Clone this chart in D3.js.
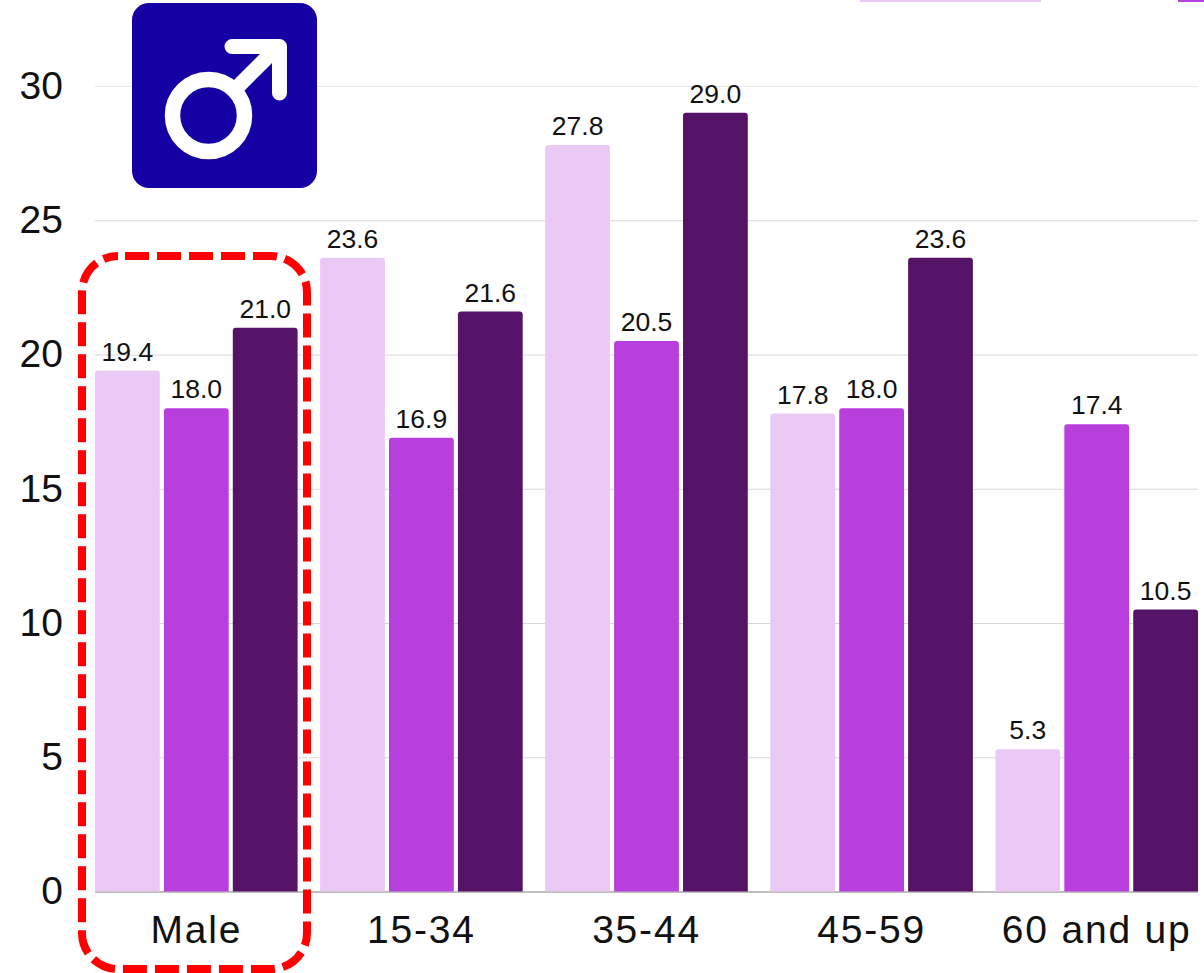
<!DOCTYPE html>
<html>
<head>
<meta charset="utf-8">
<script src="https://cdn.jsdelivr.net/npm/d3@7"></script>
<style>
  html, body { margin: 0; padding: 0; background: #fff; }
  svg { display: block; }
  text { font-family: "Liberation Sans", Arial, sans-serif; fill: #111; }
</style>
</head>
<body>
<div class="chart-container"></div>
<script>
const width = 1204;
const height = 973;

const categories = ['Male', '15-34', '35-44', '45-59', '60 and up'];
const seriesNames = ['a', 'b', 'c'];
const seriesColors = ['#ebc9f5', '#b93ede', '#541366'];
const valuesA = [19.4, 23.6, 27.8, 17.8, 5.3];
const valuesB = [18.0, 16.9, 20.5, 18.0, 17.4];
const valuesC = [21.0, 21.6, 29.0, 23.6, 10.5];
const yTicks = [0, 5, 10, 15, 20, 25, 30];

const seriesValues = [valuesA, valuesB, valuesC];

const svg = d3.select('.chart-container').append('svg')
  .attr('xmlns', 'http://www.w3.org/2000/svg')
  .attr('width', width)
  .attr('height', height)
  .attr('viewBox', '0 0 ' + width + ' ' + height);

const scaleY = d3.scaleLinear().domain([0, 30]).range([891.5, 86]);
const scaleX = d3.scaleBand().domain(categories).range([95, 1198]).paddingInner(0.1);
const scaleSeries = d3.scaleBand().domain(seriesNames).range([0, scaleX.bandwidth()]).paddingInner(0.06);

// grid + y labels
const axisY = svg.append('g')
  .attr('transform', 'translate(95,0)')
  .call(d3.axisLeft(scaleY).tickValues(yTicks).tickSize(-(1198 - 95)).tickPadding(32));
axisY.select('.domain').remove();
axisY.selectAll('line').attr('stroke', (d) => { return d === 0 ? '#a8a8a8' : (d === 30 ? '#e8e8e8' : '#d8d8d8'); }).attr('stroke-width', (d) => { return d === 0 ? 1.5 : 1.2; });
axisY.selectAll('text').style('font-size', '39px').style('font-family', '"Liberation Sans", Arial, sans-serif').attr('fill', '#111');

// bars, rounded on top only
const barPath = (x, y, w, y0, r) => {
  return 'M' + x + ',' + y0 + 'V' + (y + r) + 'Q' + x + ',' + y + ' ' + (x + r) + ',' + y
    + 'H' + (x + w - r) + 'Q' + (x + w) + ',' + y + ' ' + (x + w) + ',' + (y + r) + 'V' + y0 + 'Z';
};

const groups = svg.selectAll('.group').data(categories).enter().append('g')
  .attr('class', 'group')
  .attr('transform', (d) => { return 'translate(' + scaleX(d) + ',0)'; });

seriesNames.forEach((name, s) => {
  groups.append('path')
    .attr('fill', seriesColors[s])
    .attr('d', (d, i) => {
      return barPath(scaleSeries(name), scaleY(seriesValues[s][i]), scaleSeries.bandwidth(), scaleY(0), 3);
    });
  groups.append('text')
    .attr('x', scaleSeries(name) + scaleSeries.bandwidth() / 2)
    .attr('y', (d, i) => { return scaleY(seriesValues[s][i]) - 10; })
    .attr('text-anchor', 'middle')
    .style('font-size', '26.5px')
    .text((d, i) => { return seriesValues[s][i].toFixed(1); });
});

// category labels
const axisX = svg.append('g')
  .attr('transform', 'translate(0,891.5)')
  .call(d3.axisBottom(scaleX).tickSize(0).tickPadding(0));
axisX.select('.domain').remove();
axisX.selectAll('text')
  .attr('y', 51.5)
  .attr('dy', 0)
  .style('font-size', '39px')
  .style('letter-spacing', '1.8px')
  .style('font-family', '"Liberation Sans", Arial, sans-serif')
  .attr('fill', '#111');

// legend, cut off by the top of the picture
svg.append('rect').attr('x', 860).attr('y', -10).attr('width', 181).attr('height', 12).attr('fill', seriesColors[0]);
svg.append('rect').attr('x', 1178).attr('y', -10).attr('width', 40).attr('height', 12).attr('fill', seriesColors[1]);

// male icon
const icon = svg.append('g');
icon.append('rect').attr('x', 132).attr('y', 3).attr('width', 185).attr('height', 185).attr('rx', 17).attr('fill', '#1500a3');
icon.append('circle').attr('cx', 208.5).attr('cy', 115.5).attr('r', 36)
  .attr('fill', 'none').attr('stroke', '#fff').attr('stroke-width', 15.5);
icon.append('path').attr('d', 'M238,86.5L278,46.5M232,46.5H279.5V93')
  .attr('fill', 'none').attr('stroke', '#fff').attr('stroke-width', 15).attr('stroke-linecap', 'round').attr('stroke-linejoin', 'round');

// red dashed highlight
svg.append('rect')
  .attr('x', 82).attr('y', 256).attr('width', 225).attr('height', 713).attr('rx', 36)
  .attr('fill', 'none').attr('stroke', '#ff0000').attr('stroke-width', 8)
  .attr('stroke-dasharray', '24 8').attr('stroke-dashoffset', 25);
</script>
</body>
</html>
